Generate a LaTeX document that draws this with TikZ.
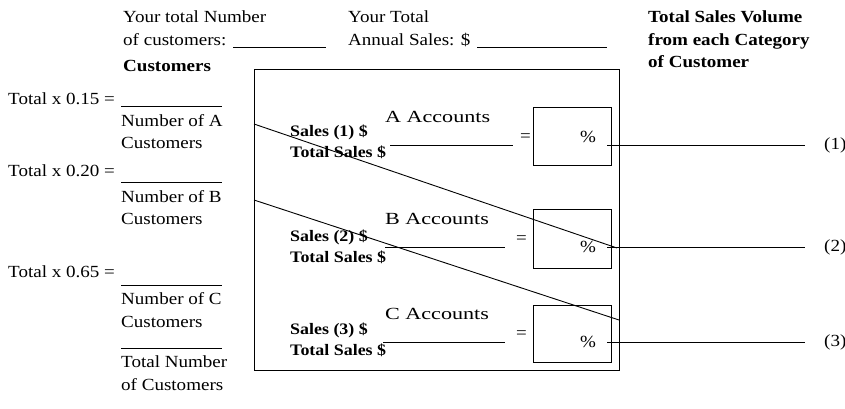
\documentclass[tikz,border=0pt]{standalone}
\usepackage{fontspec}
\setmainfont{Liberation Serif}[FakeStretch=1.12]
\newfontfamily\accfont{Liberation Serif}[FakeStretch=1.3]
\begin{document}
\begin{tikzpicture}[x=1pt,y=-1pt,
  txt/.style={anchor=base west, inner sep=0pt, font=\fontsize{17}{20}\selectfont},
  btxt/.style={anchor=base west, inner sep=0pt, font=\fontsize{17}{20}\selectfont\bfseries},
  stxt/.style={anchor=base west, inner sep=0pt, font=\fontsize{16}{19}\selectfont\bfseries},
  acc/.style={anchor=base west, inner sep=0pt, font=\fontsize{17}{20}\accfont},
  pbox/.style={draw, line width=0.9pt, minimum width=78pt, inner sep=0pt},
  ln/.style={line width=0.9pt}]
\useasboundingbox (0,0) rectangle (845,409);

% header
\node[txt] (h1) at (123,23) {Your total Number};
\node[txt] (h2) at (123,46) {of customers:};
\coordinate (u1a) at (233,47); \coordinate (u1b) at (326,47);
\draw[ln] (u1a) -- (u1b);
\node[btxt] (hc) at (123,72) {Customers};
\node[txt] (h3) at (348,23) {Your Total};
\node[txt] (h4) at (348,46) {Annual Sales: \$};
\coordinate (u2a) at (477,47); \coordinate (u2b) at (607,47);
\draw[ln] (u2a) -- (u2b);
\node[btxt] (r1) at (648,23) {Total Sales Volume};
\node[btxt] (r2) at (648,46) {from each Category};
\node[btxt] (r3) at (648,68) {of Customer};

% left column
\node[txt] (t1) at (8,105) {Total x 0.15 =};
\coordinate (l1a) at (121,106); \coordinate (l1b) at (222,106);
\draw[ln] (l1a) -- (l1b);
\node[txt] (na1) at (121,126) {Number of A};
\node[txt] (na2) at (121,148) {Customers};
\node[txt] (t2) at (8,176) {Total x 0.20 =};
\coordinate (l2a) at (121,182); \coordinate (l2b) at (222,182);
\draw[ln] (l2a) -- (l2b);
\node[txt] (nb1) at (121,202) {Number of B};
\node[txt] (nb2) at (121,224) {Customers};
\node[txt] (t3) at (8,277) {Total x 0.65 =};
\coordinate (l3a) at (121,285); \coordinate (l3b) at (222,285);
\draw[ln] (l3a) -- (l3b);
\node[txt] (nc1) at (121,304) {Number of C};
\node[txt] (nc2) at (121,327) {Customers};
\coordinate (l4a) at (121,348); \coordinate (l4b) at (222,348);
\draw[ln] (l4a) -- (l4b);
\node[txt] (tn1) at (121,367) {Total Number};
\node[txt] (tn2) at (121,390) {of Customers};

% frame
\node[draw, line width=0.9pt, minimum width=365pt, minimum height=301pt, inner sep=0pt, anchor=north west] (frame) at (254,69) {};

% A row
\node[acc] (aa) at (385,123) {A Accounts};
\node[stxt] (sa1) at (290,136) {Sales (1) \$};
\node[stxt] (sa2) at (290,157) {Total Sales \$};
\coordinate (fa1) at (390,145); \coordinate (fa2) at (513,145);
\draw[ln] (fa1) -- (fa2);
\node[txt] (ea) at (520,141) {=};
\node[pbox, minimum height=58pt] (pa) at (572.5,136) {};
\node[txt] (pca) at (580,142) {\%};
% B row
\node[acc] (ba) at (385,224) {B Accounts};
\node[stxt] (sb1) at (290,241) {Sales (2) \$};
\node[stxt] (sb2) at (290,262) {Total Sales \$};
\coordinate (fb1) at (385,247); \coordinate (fb2) at (505,247);
\draw[ln] (fb1) -- (fb2);
\node[txt] (eb) at (516,243) {=};
\node[pbox, minimum height=59pt] (pb) at (572.5,238.5) {};
\node[txt] (pcb) at (580,252) {\%};
% C row
\node[acc] (ca) at (385,319) {C Accounts};
\node[stxt] (sc1) at (290,334) {Sales (3) \$};
\node[stxt] (sc2) at (290,355) {Total Sales \$};
\coordinate (fc1) at (383,342); \coordinate (fc2) at (505,342);
\draw[ln] (fc1) -- (fc2);
\node[txt] (ec) at (516,338) {=};
\node[pbox, minimum height=57pt] (pc) at (572.5,333.5) {};
\node[txt] (pcc) at (580,347) {\%};

% output lines
\coordinate (oa1) at (607,145); \coordinate (oa2) at (805,145);
\coordinate (ob1) at (607,247); \coordinate (ob2) at (805,247);
\coordinate (oc1) at (607,342); \coordinate (oc2) at (805,342);
\draw[ln] (oa1) -- (oa2);
\draw[ln] (ob1) -- (ob2);
\draw[ln] (oc1) -- (oc2);
\node[txt] (o1) at (824,149) {(1)};
\node[txt] (o2) at (824,251) {(2)};
\node[txt] (o3) at (824,346) {(3)};

% diagonals
\coordinate (d1a) at (254,124); \coordinate (d1b) at (617,248);
\coordinate (d2a) at (254,200); \coordinate (d2b) at (619,320);
\draw[ln] (d1a) -- (d1b);
\draw[ln] (d2a) -- (d2b);
\end{tikzpicture}
\end{document}
